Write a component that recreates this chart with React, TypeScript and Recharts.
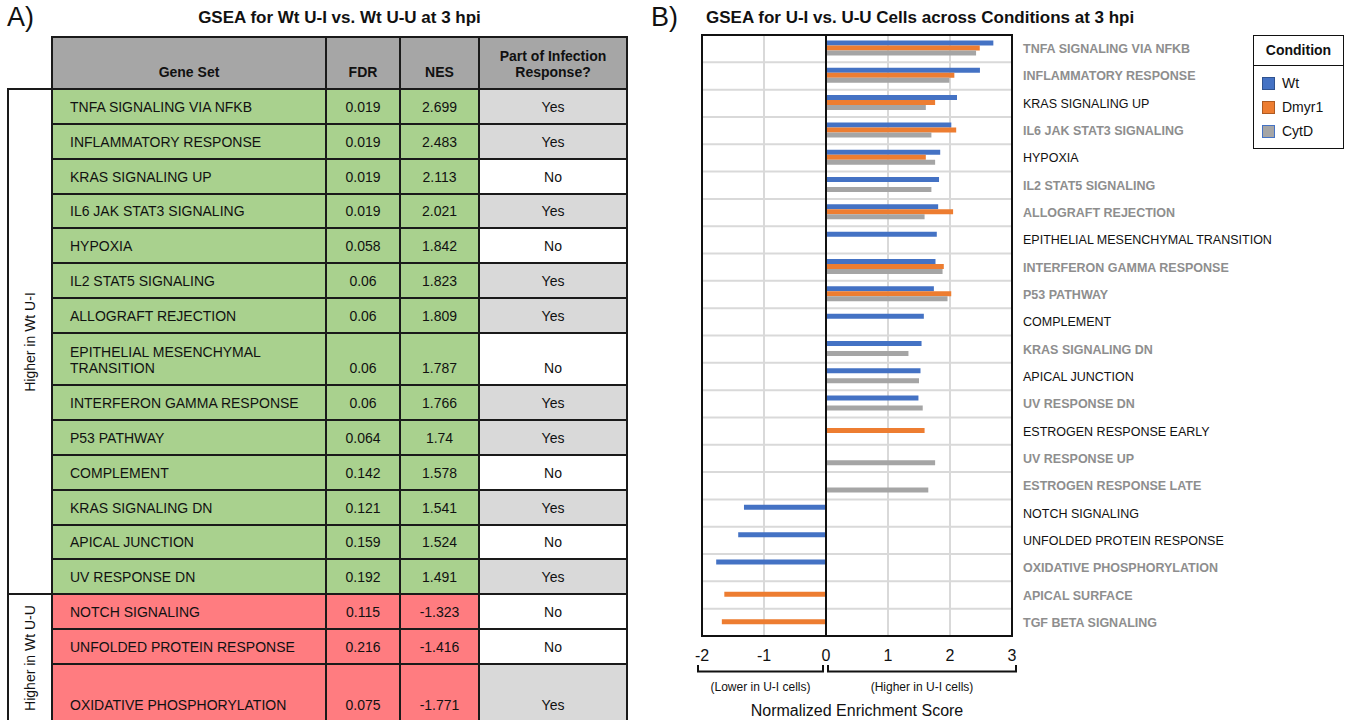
import React from 'react';
import {
  BarChart,
  Bar,
  XAxis,
  YAxis,
  CartesianGrid,
  ReferenceLine,
  ReferenceArea,
  Legend,
} from 'recharts';

// ---------------- Panel A data (table) ----------------
const tableGeneSets = [
  'TNFA SIGNALING VIA NFKB',
  'INFLAMMATORY RESPONSE',
  'KRAS SIGNALING UP',
  'IL6 JAK STAT3 SIGNALING',
  'HYPOXIA',
  'IL2 STAT5 SIGNALING',
  'ALLOGRAFT REJECTION',
  'EPITHELIAL MESENCHYMAL TRANSITION',
  'INTERFERON GAMMA RESPONSE',
  'P53 PATHWAY',
  'COMPLEMENT',
  'KRAS SIGNALING DN',
  'APICAL JUNCTION',
  'UV RESPONSE DN',
  'NOTCH SIGNALING',
  'UNFOLDED PROTEIN RESPONSE',
  'OXIDATIVE PHOSPHORYLATION',
];
const tableFDR = ['0.019', '0.019', '0.019', '0.019', '0.058', '0.06', '0.06', '0.06', '0.06', '0.064', '0.142', '0.121', '0.159', '0.192', '0.115', '0.216', '0.075'];
const tableNES = ['2.699', '2.483', '2.113', '2.021', '1.842', '1.823', '1.809', '1.787', '1.766', '1.74', '1.578', '1.541', '1.524', '1.491', '-1.323', '-1.416', '-1.771'];
const tableInfection = ['Yes', 'Yes', 'No', 'Yes', 'No', 'Yes', 'Yes', 'No', 'Yes', 'Yes', 'No', 'Yes', 'No', 'Yes', 'No', 'No', 'Yes'];
const tableHeaders = ['Gene Set', 'FDR', 'NES', 'Part of Infection Response?'];
const groupLabels = ['Higher in Wt U-I', 'Higher in Wt U-U'];
const groupSizes = [14, 3];

// ---------------- Panel B data (chart) ----------------
const chartCategories = [
  'TNFA SIGNALING VIA NFKB',
  'INFLAMMATORY RESPONSE',
  'KRAS SIGNALING UP',
  'IL6 JAK STAT3 SIGNALING',
  'HYPOXIA',
  'IL2 STAT5 SIGNALING',
  'ALLOGRAFT REJECTION',
  'EPITHELIAL MESENCHYMAL TRANSITION',
  'INTERFERON GAMMA RESPONSE',
  'P53 PATHWAY',
  'COMPLEMENT',
  'KRAS SIGNALING DN',
  'APICAL JUNCTION',
  'UV RESPONSE DN',
  'ESTROGEN RESPONSE EARLY',
  'UV RESPONSE UP',
  'ESTROGEN RESPONSE LATE',
  'NOTCH SIGNALING',
  'UNFOLDED PROTEIN RESPONSE',
  'OXIDATIVE PHOSPHORYLATION',
  'APICAL SURFACE',
  'TGF BETA SIGNALING',
];
const chartInfection = [true, true, false, true, false, true, true, false, true, true, false, true, false, true, false, true, true, false, false, true, true, true];
const wtNES = [2.699, 2.483, 2.113, 2.021, 1.842, 1.823, 1.809, 1.787, 1.766, 1.74, 1.578, 1.541, 1.524, 1.491, null, null, null, -1.323, -1.416, -1.771, null, null];
const dmyr1NES = [2.48, 2.07, 1.76, 2.1, 1.61, null, 2.05, null, 1.9, 2.02, null, null, null, null, 1.59, null, null, null, null, null, -1.64, -1.68];
const cytdNES = [2.42, 1.99, 1.61, 1.7, 1.76, 1.7, 1.59, null, 1.88, 1.96, null, 1.33, 1.5, 1.56, null, 1.76, 1.65, null, null, null, null, null];
const xDomain = [-2, 3];
const xTicks = [-2, -1, 0, 1, 2, 3];
const conditionNames = ['Wt', 'Dmyr1', 'CytD'];
const conditionColors = ['#4472C4', '#ED7D31', '#A5A5A5'];
const conditionBorders = ['#2F528F', '#AE5A21', '#4472C4'];

const chartData = chartCategories.map((name, i) => ({
  name,
  wt: wtNES[i],
  dmyr1: dmyr1NES[i],
  cytd: cytdNES[i],
}));

const FONT = "'Liberation Sans', Arial, Helvetica, sans-serif";

// ---------------- Table (panel A) ----------------
const colX = [52, 326, 400, 479, 627];
const headerTop = 37;
const headerH = 52;
const rowUnit = 34.85;
const rowScale = tableGeneSets.map((g, i) => (g.length > 30 ? 1.5 : i === tableGeneSets.length - 1 ? 1.67 : 1));

function Table() {
  const rowTops: number[] = [];
  let y = headerTop + headerH;
  rowScale.forEach((s) => {
    rowTops.push(y);
    y += s * rowUnit;
  });
  const bottom = y;
  const cells: React.ReactNode[] = [];
  const cellText = (
    key: string,
    left: number,
    top: number,
    w: number,
    h: number,
    bg: string,
    text: string,
    align: 'left' | 'center',
    bold = false
  ) => (
    <div
      key={key}
      style={{
        position: 'absolute',
        left,
        top,
        width: w,
        height: h,
        background: bg,
        boxSizing: 'border-box',
        display: 'flex',
        alignItems: 'flex-end',
        justifyContent: align === 'left' ? 'flex-start' : 'center',
        textAlign: align,
        paddingLeft: align === 'left' ? 18 : 0,
        paddingRight: align === 'left' ? 6 : 0,
        paddingBottom: 9,
        fontSize: 14,
        lineHeight: '16px',
        fontWeight: bold ? 700 : 400,
        color: '#111',
      }}
    >
      <span>{text}</span>
    </div>
  );
  // header
  tableHeaders.forEach((h, c) => {
    cells.push(
      cellText('h' + c, colX[c], headerTop, colX[c + 1] - colX[c], headerH, '#A6A6A6', h, 'center', true)
    );
  });
  tableGeneSets.forEach((g, r) => {
    const top = rowTops[r];
    const h = rowScale[r] * rowUnit;
    const up = r < groupSizes[0];
    const bg = up ? '#A9D18E' : '#FF7C80';
    const vals = [g, tableFDR[r], tableNES[r], tableInfection[r]];
    vals.forEach((v, c) => {
      const cbg = c === 3 ? (v === 'Yes' ? '#D9D9D9' : '#FFFFFF') : bg;
      cells.push(cellText('r' + r + 'c' + c, colX[c], top, colX[c + 1] - colX[c], h, cbg, v, c === 0 ? 'left' : 'center'));
    });
  });
  const lines: React.ReactNode[] = [];
  const hLine = (key: string, x1: number, x2: number, yy: number) => (
    <div key={key} style={{ position: 'absolute', left: x1 - 1, top: yy - 1, width: x2 - x1 + 2, height: 2, background: '#1a1a1a' }} />
  );
  const vLine = (key: string, xx: number, y1: number, y2: number) => (
    <div key={key} style={{ position: 'absolute', left: xx - 1, top: y1 - 1, width: 2, height: y2 - y1 + 2, background: '#1a1a1a' }} />
  );
  lines.push(hLine('ht', colX[0], colX[4], headerTop));
  lines.push(hLine('hh', 8, colX[4], headerTop + headerH));
  rowTops.forEach((t, i) => {
    if (i > 0) lines.push(hLine('hr' + i, i === groupSizes[0] ? 8 : colX[0], colX[4], t));
  });
  lines.push(hLine('hb', 8, colX[4], bottom));
  colX.forEach((x, i) => lines.push(vLine('v' + i, x, headerTop, bottom)));
  lines.push(vLine('vg', 8, headerTop + headerH, bottom));

  // group labels
  const g1Top = headerTop + headerH;
  const g1Bottom = rowTops[groupSizes[0]];
  const groups = [
    { label: groupLabels[0], top: g1Top, bottom: g1Bottom },
    { label: groupLabels[1], top: g1Bottom, bottom },
  ];
  return (
    <>
      {cells}
      {groups.map((g, i) => (
        <div
          key={'g' + i}
          style={{
            position: 'absolute',
            left: 8,
            top: g.top,
            width: 44,
            height: g.bottom - g.top,
            display: 'flex',
            alignItems: 'center',
            justifyContent: 'center',
          }}
        >
          <div style={{ transform: 'rotate(-90deg)', whiteSpace: 'nowrap', fontSize: 14, color: '#111' }}>{g.label}</div>
        </div>
      ))}
      {lines}
    </>
  );
}

// ---------------- Chart (panel B) ----------------
const CategoryTick = (props: any) => {
  const { x, y, payload } = props;
  const idx = chartCategories.indexOf(payload.value);
  const inf = chartInfection[idx];
  return (
    <text
      x={x + 3}
      y={y}
      dy="0.36em"
      textAnchor="start"
      fontFamily={FONT}
      fontSize={12.5}
      fontWeight={inf ? 700 : 400}
      fill={inf ? '#8E8E8E' : '#111'}
    >
      {payload.value}
    </text>
  );
};

const AxisDecor = (props: any) => {
  const vb = props.viewBox || {};
  const { x, y, width } = vb;
  const toPx = (v: number) => x + ((v - xDomain[0]) / (xDomain[1] - xDomain[0])) * width;
  const l1 = toPx(xDomain[0]) - 4;
  const l2 = toPx(0) - 3;
  const r1 = toPx(0) + 2;
  const r2 = toPx(xDomain[1]) + 4;
  const yt = y + 29;
  const yb = y + 35.5;
  return (
    <g>
      <path d={`M${l1},${yt} L${l1},${yb} L${l2},${yb} L${l2},${yt}`} fill="none" stroke="#111" strokeWidth={2} />
      <path d={`M${r1},${yt} L${r1},${yb} L${r2},${yb} L${r2},${yt}`} fill="none" stroke="#111" strokeWidth={2} />
      <text x={(l1 + l2) / 2} y={y + 55} textAnchor="middle" fontSize={12} fontFamily={FONT} fill="#111">
        (Lower in U-I cells)
      </text>
      <text x={(r1 + r2) / 2} y={y + 55} textAnchor="middle" fontSize={12} fontFamily={FONT} fill="#111">
        (Higher in U-I cells)
      </text>
      <text x={x + width / 2} y={y + 80} textAnchor="middle" fontSize={16} fontFamily={FONT} fill="#111">
        Normalized Enrichment Score
      </text>
    </g>
  );
};

const LegendBox = (props: any) => {
  const payload = props.payload || [];
  const items = conditionNames.map((n, i) => {
    const p = payload.find((q: any) => q.value === n);
    return { name: n, color: p ? p.color : conditionColors[i], border: conditionBorders[i] };
  });
  return (
    <div
      style={{
        width: 91,
        height: 114,
        border: '1.5px solid #111',
        boxSizing: 'border-box',
        background: '#fff',
        fontFamily: FONT,
        color: '#111',
      }}
    >
      <div
        style={{
          height: 29,
          borderBottom: '1.5px solid #111',
          fontWeight: 700,
          fontSize: 14,
          textAlign: 'center',
          lineHeight: '29px',
        }}
      >
        Condition
      </div>
      <div style={{ paddingTop: 5 }}>
        {items.map((it) => (
          <div key={it.name} style={{ height: 24, display: 'flex', alignItems: 'center', paddingLeft: 8 }}>
            <div
              style={{
                width: 13,
                height: 13,
                background: it.color,
                border: `1.5px solid ${it.border}`,
                boxSizing: 'border-box',
                marginRight: 7,
              }}
            />
            <span style={{ fontSize: 14 }}>{it.name}</span>
          </div>
        ))}
      </div>
    </div>
  );
};

function Chart() {
  const N = chartCategories.length;
  return (
    <BarChart
      width={659}
      height={720}
      data={chartData}
      layout="vertical"
      margin={{ top: 35, right: 17, left: 12, bottom: 4 }}
      barCategoryGap="20%"
      barGap={0}
    >
      <CartesianGrid
        stroke="#D9D9D9"
        strokeWidth={2}
        horizontalCoordinatesGenerator={(args: any) => {
          const off = (args && args.offset) || {};
          const top = off.top ?? 35;
          const h = off.height ?? 601;
          const out: number[] = [];
          for (let i = 1; i < N; i++) out.push(top + (i * h) / N);
          return out;
        }}
      />
      <XAxis
        type="number"
        domain={xDomain}
        ticks={xTicks}
        axisLine={false}
        tickLine={false}
        tickMargin={8}
        height={80}
        tick={{ fontSize: 16, fill: '#111', fontFamily: FONT }}
        interval={0}
        label={(p: any) => <AxisDecor {...p} />}
      />
      <YAxis
        type="category"
        dataKey="name"
        orientation="right"
        width={320}
        axisLine={false}
        tickLine={false}
        interval={0}
        tick={<CategoryTick />}
      />
      <ReferenceArea x1={xDomain[0]} x2={xDomain[1]} fill="none" stroke="#111" strokeWidth={2} ifOverflow="visible" />
      <ReferenceLine x={0} stroke="#111" strokeWidth={2} />
      <Bar dataKey="wt" name={conditionNames[0]} fill={conditionColors[0]} isAnimationActive={false} />
      <Bar dataKey="dmyr1" name={conditionNames[1]} fill={conditionColors[1]} isAnimationActive={false} />
      <Bar dataKey="cytd" name={conditionNames[2]} fill={conditionColors[2]} isAnimationActive={false} />
      <Legend
        layout="vertical"
        align="center"
        verticalAlign="middle"
        wrapperStyle={{ left: 563, top: 35, width: 91 }}
        content={<LegendBox />}
      />
    </BarChart>
  );
}

export default function App() {
  return (
    <div
      style={{
        position: 'absolute',
        left: 0,
        top: 0,
        width: 1349,
        height: 720,
        overflow: 'hidden',
        background: '#fff',
        fontFamily: FONT,
      }}
    >
      <div style={{ position: 'absolute', left: 7, top: 2, fontSize: 27, color: '#111' }}>A)</div>
      <div
        style={{
          position: 'absolute',
          left: 52,
          width: 575,
          top: 8,
          textAlign: 'center',
          fontSize: 17,
          lineHeight: '20px',
          fontWeight: 700,
          color: '#111',
        }}
      >
        GSEA for Wt U-I vs. Wt U-U at 3 hpi
      </div>
      <Table />
      <div style={{ position: 'absolute', left: 651, top: 2, fontSize: 27, color: '#111' }}>B)</div>
      <div
        style={{
          position: 'absolute',
          left: 706,
          top: 8,
          whiteSpace: 'nowrap',
          fontSize: 17,
          lineHeight: '20px',
          fontWeight: 700,
          color: '#111',
        }}
      >
        GSEA for U-I vs. U-U Cells across Conditions at 3 hpi
      </div>
      <div style={{ position: 'absolute', left: 690, top: 0 }}>
        <Chart />
      </div>
    </div>
  );
}
